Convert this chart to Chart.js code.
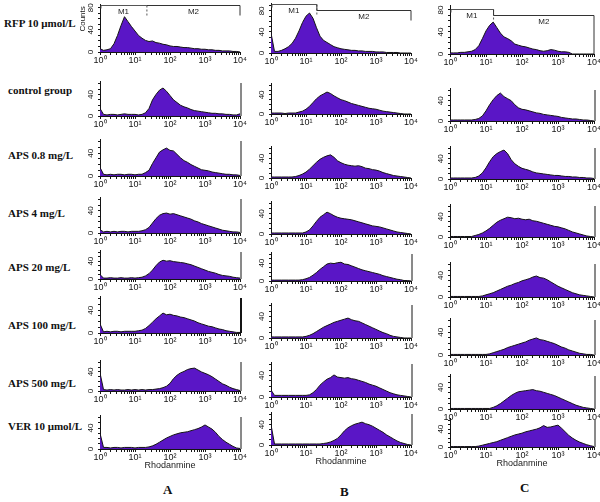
<!DOCTYPE html>
<html>
<head>
<meta charset="utf-8">
<script src="https://cdn.jsdelivr.net/npm/chart.js@4.4.1/dist/chart.umd.min.js"></script>
<style>
  body { margin: 0; background: #fff; }
  #fig { position: relative; width: 600px; height: 502px; overflow: hidden; background: #fff; }
  #fig canvas { position: absolute; }
  .rowlab { position: absolute; left: 8px; font: bold 11px "Liberation Serif", "Times New Roman", serif; color: #111; white-space: nowrap; }
  .collab { position: absolute; font: bold 13px "Liberation Serif", "Times New Roman", serif; color: #111; }
</style>
</head>
<body>
<div id="fig"></div>
<script>
// bin positions (log10 of fluorescence channel)
const binLog = [0.0,0.1,0.2,0.3,0.4,0.5,0.6,0.7,0.8,0.9,1.0,1.1,1.2,1.3,1.4,1.5,1.6,1.7,1.8,1.9,2.0,
                2.1,2.2,2.3,2.4,2.5,2.6,2.7,2.8,2.9,3.0,3.1,3.2,3.3,3.4,3.5,3.6,3.7,3.8,3.9,4.0];

const rowLabels = ['RFP 10 μmol/L', 'control group', 'APS 0.8 mg/L', 'APS 4 mg/L',
                   'APS 20 mg/L', 'APS 100 mg/L', 'APS 500 mg/L', 'VER 10 μmol/L'];
const colLetters = ['A', 'B', 'C'];
const decadeLabels = ['10⁰', '10¹', '10²', '10³', '10⁴'];
const countTicks = [0, 40, 80];

// column A counts
const rfpA     = [6,3,4,6,15,30,48,64,55,46,38,30,25,21,19,20,17,16,14,13,11,10,10,9,8,8,7,6,6,5,5,4,4,3,3,2,2,2,1,1,0];
const controlA = [14,3,2,3,3,2,3,4,3,3,3,2,3,6,14,30,40,48,52,46,38,30,25,20,17,15,12,10,9,8,7,6,5,5,4,4,3,3,2,2,4];
const aps08A   = [15,3,2,3,2,3,3,2,3,3,2,3,3,6,10,22,32,42,46,49,45,44,38,32,27,24,20,17,14,11,10,9,7,6,5,4,3,3,2,2,1];
const aps4A    = [6,2,3,2,3,2,3,3,2,3,3,3,4,6,10,18,26,32,35,36,34,35,33,31,29,27,25,22,20,17,15,13,11,9,7,5,4,3,2,2,1];
const aps20A   = [10,2,2,3,2,2,3,2,2,3,2,3,4,7,12,20,30,38,42,40,41,39,38,37,36,34,32,29,26,23,20,17,15,13,10,8,7,6,4,3,2];
const aps100A  = [16,2,3,2,3,3,2,3,3,3,3,4,5,8,13,19,25,30,35,32,33,31,30,28,27,25,23,21,18,16,14,12,11,9,7,6,4,3,2,1,1];
const aps500A  = [38,3,2,3,2,3,2,2,3,2,3,2,3,2,3,3,4,5,7,10,16,26,33,38,41,45,47,48,44,40,37,34,30,25,20,15,12,8,5,3,1];
const verA     = [30,3,3,2,3,3,2,3,3,3,2,3,3,3,4,6,9,13,17,21,24,27,29,31,32,33,35,37,39,42,46,42,38,32,24,18,13,9,5,2,1];

// column B counts
const rfpB     = [38,3,3,5,8,12,18,28,42,58,70,76,66,48,32,24,20,16,12,10,8,7,6,5,5,4,4,3,3,3,2,2,2,1,1,1,1,0,0,0,0];
const controlB = [2,2,2,2,1,2,2,2,4,6,10,16,24,32,38,42,46,43,38,34,30,28,25,22,20,18,16,14,12,11,10,8,6,5,4,3,2,1,0,0,0];
const aps08B   = [2,2,2,2,2,2,2,3,5,8,12,18,25,32,38,42,45,47,42,35,31,28,26,25,24,25,23,20,19,17,16,14,11,9,7,5,4,3,2,1,0];
const aps4B    = [2,2,2,2,2,2,2,2,2,2,4,8,16,25,33,38,43,40,36,33,31,30,29,28,26,24,22,20,18,16,15,14,12,10,8,6,4,3,2,1,0];
const aps20B   = [2,2,2,2,2,2,2,2,2,3,5,8,13,19,26,32,38,40,39,41,42,38,37,34,31,28,25,23,21,19,17,15,12,10,8,6,4,3,1,1,0];
const aps100B  = [2,2,2,2,2,2,2,2,2,2,3,5,8,12,16,20,23,26,29,31,33,35,37,34,32,31,28,25,22,19,16,13,10,8,5,3,2,1,0,0,0];
const aps500B  = [13,3,3,3,3,3,3,3,3,3,3,4,8,14,22,28,33,36,41,37,36,35,36,34,33,31,29,27,24,22,20,17,14,11,8,6,4,3,2,1,0];
const verB     = [40,2,2,2,2,2,2,2,2,2,2,2,2,2,2,3,4,6,9,13,20,28,34,38,41,43,45,42,40,37,33,29,25,20,16,12,8,5,3,1,0];

// column C counts
const rfpC     = [2,2,2,3,3,4,5,8,15,28,42,52,58,48,38,31,28,24,18,16,14,13,11,9,8,6,5,6,8,7,5,4,4,3,0,0,0,0,0,0,0];
const controlC = [2,2,2,2,2,2,2,3,5,10,20,32,42,50,55,48,44,40,32,26,23,22,20,18,16,15,13,12,11,10,9,7,6,5,4,4,3,2,2,1,0];
const aps08C   = [2,2,2,2,2,2,2,3,6,12,22,34,44,50,54,57,50,38,30,25,21,19,17,14,12,11,10,9,8,7,7,6,5,5,4,4,3,3,2,2,1];
const aps4C    = [1,1,1,1,1,1,1,3,5,8,12,17,23,29,33,36,39,38,36,37,35,34,35,32,31,29,27,25,23,21,20,18,16,13,10,8,6,4,2,1,0];
const aps20C   = [1,1,1,1,1,1,1,1,1,2,4,6,8,11,14,17,20,22,25,27,30,32,34,37,39,36,35,32,28,24,20,17,14,11,8,6,4,3,2,1,0];
const aps100C  = [1,1,1,1,1,1,1,1,1,1,1,2,4,6,8,10,13,15,17,19,21,23,26,28,30,27,26,24,22,20,17,14,12,9,7,5,3,2,1,1,0];
const aps500C  = [1,1,1,1,1,1,1,1,1,1,1,1,3,6,10,15,20,25,29,32,33,34,35,36,34,33,31,29,27,25,22,19,16,13,10,7,5,3,2,1,0];
const verC     = [1,1,1,1,1,1,1,1,2,4,6,8,10,12,15,18,21,24,27,29,31,34,36,38,40,43,48,44,45,47,49,42,34,26,20,15,11,8,5,3,1];

const seriesA = [rfpA, controlA, aps08A, aps4A, aps20A, aps100A, aps500A, verA];
const seriesB = [rfpB, controlB, aps08B, aps4B, aps20B, aps100B, aps500B, verB];
const seriesC = [rfpC, controlC, aps08C, aps4C, aps20C, aps100C, aps500C, verC];

// y-axis top (counts) of the first row; other rows use 65
const firstRowMax = [87, 95, 89];
const otherRowMax = 65;

// page geometry: x pixel of 10^0 and 10^4 per column, [top, baseline] per row
const colX = [[100, 240], [271, 411], [450, 594]];
const rowYA = [[4,52],[81,116],[139,176],[197,233],[250,279],[296,333],[360,391],[415,449]];
const rowYB = [[3,53],[83,114],[146,178],[201,234],[252,281],[303,338],[362,397],[412,445]];
const rowYC = [[5,54],[88,121],[146,179],[204,237],[262,297],[318,355],[374,409],[418,447]];
const rowLabelY = [24, 91, 156, 214, 268, 326, 384, 427];
const colLetterPos = [[168, 490], [345, 492], [525, 488]];

// gate markers in the RFP row: M1/M2 boundary (log), and marker heights (counts)
const gates = [
  { edge: 1.34, m1: 86, m2: 86, drop: 10 },
  { edge: 1.31, m1: 93, m2: 82, drop: 10 },
  { edge: 1.21, m1: 82, m2: 71, drop: 'base' },
];

const fillColor = '#5a16c6';
const inkColor = '#141414';
const sansFont = '"Liberation Sans", Arial, sans-serif';

const xTickValues = [];
for (let d = 0; d < 4; d++) {
  xTickValues.push(d);
  for (let m = 2; m <= 9; m++) xTickValues.push(d + Math.log10(m));
}
xTickValues.push(4);

const fig = document.getElementById('fig');

rowLabels.forEach((t, i) => {
  const el = document.createElement('div');
  el.className = 'rowlab';
  el.textContent = t;
  el.style.top = (rowLabelY[i] - 7) + 'px';
  el.style.left = (i === 0 ? 4 : 8) + 'px';
  fig.appendChild(el);
});
colLetters.forEach((t, i) => {
  const el = document.createElement('div');
  el.className = 'collab';
  el.textContent = t;
  el.style.left = (colLetterPos[i][0] - 5) + 'px';
  el.style.top = (colLetterPos[i][1] - 8) + 'px';
  fig.appendChild(el);
});

const deco = {
  id: 'deco',
  afterDraw(chart, args, opts) {
    const { ctx, chartArea: a, scales: { x, y } } = chart;
    ctx.save();
    ctx.fillStyle = inkColor;
    ctx.strokeStyle = inkColor;
    ctx.textAlign = 'center';
    ctx.textBaseline = 'middle';
    ctx.font = '8px ' + sansFont;
    countTicks.filter(v => v <= y.max).forEach(v => {
      ctx.save();
      ctx.translate(a.left - 9, y.getPixelForValue(v));
      ctx.rotate(-Math.PI / 2);
      ctx.fillText(String(v), 0, 0);
      ctx.restore();
    });
    if (opts.counts) {
      ctx.save();
      ctx.translate(a.left - 17, y.getPixelForValue(60));
      ctx.rotate(-Math.PI / 2);
      ctx.fillText('Counts', 0, 0);
      ctx.restore();
    }
    if (opts.rightLine) {
      ctx.lineWidth = opts.rightLine;
      ctx.beginPath();
      ctx.moveTo(a.right + 1, a.top + 2);
      ctx.lineTo(a.right + 1, a.bottom);
      ctx.stroke();
    }
    if (opts.gate) {
      const g = opts.gate;
      const xe = x.getPixelForValue(g.edge);
      const y1 = Math.round(y.getPixelForValue(g.m1)) + 0.5;
      const y2 = Math.round(y.getPixelForValue(g.m2)) + 0.5;
      ctx.lineWidth = 1;
      ctx.strokeStyle = '#555';
      ctx.beginPath();
      ctx.moveTo(a.left + 1, y1 + 3); ctx.lineTo(a.left + 1, y1); ctx.lineTo(xe, y1);
      ctx.stroke();
      ctx.setLineDash([2, 2]);
      ctx.beginPath();
      ctx.moveTo(xe, y1); ctx.lineTo(xe, y1 + 10);
      ctx.stroke();
      ctx.setLineDash([]);
      ctx.strokeStyle = '#333';
      ctx.beginPath();
      ctx.moveTo(xe, y1); ctx.lineTo(xe, y2); ctx.lineTo(a.right, y2);
      ctx.lineTo(a.right, g.drop === 'base' ? a.bottom : y2 + g.drop);
      ctx.stroke();
      ctx.font = '8px ' + sansFont;
      ctx.fillStyle = '#222';
      ctx.fillText('M1', (a.left + xe) / 2, y1 + 6);
      ctx.fillText('M2', (xe + a.right) / 2, y2 + 6);
    }
    if (opts.title) {
      ctx.font = '9px ' + sansFont;
      ctx.fillStyle = '#222';
      ctx.fillText('Rhodanmine', (a.left + a.right) / 2, a.bottom + 17);
    }
    ctx.restore();
  }
};

const padL = 22, padR = 8, padT = 3;

function makePanel(col, row, counts, rowY) {
  const [x0, x4] = colX[col];
  const [yTop, yBase] = rowY[row];
  const padB = row === 7 ? 24 : 13;
  const W = (x4 - x0) + padL + padR;
  const H = (yBase - yTop) + padT + padB;
  const canvas = document.createElement('canvas');
  canvas.width = W;
  canvas.height = H;
  canvas.style.left = (x0 - padL) + 'px';
  canvas.style.top = (yTop - padT) + 'px';
  canvas.style.width = W + 'px';
  canvas.style.height = H + 'px';
  fig.appendChild(canvas);

  const yMax = row === 0 ? firstRowMax[col] : otherRowMax;
  const rightLine = col === 0 ? (row === 5 ? 2 : 1)
                  : col === 1 ? (row >= 4 ? 1 : 0)
                  : (row >= 1 ? 1 : 0);

  new Chart(canvas, {
    type: 'line',
    data: {
      datasets: [{
        data: binLog.map((v, i) => ({ x: v, y: counts[i] })),
        fill: 'origin',
        backgroundColor: fillColor,
        borderColor: inkColor,
        borderWidth: 1,
        pointRadius: 0,
        tension: 0,
      }]
    },
    options: {
      responsive: false,
      animation: false,
      events: [],
      layout: { padding: { top: padT, right: padR, left: 0, bottom: 0 } },
      plugins: {
        legend: { display: false },
        tooltip: { enabled: false },
        deco: {
          counts: col === 0 && row === 0,
          rightLine: row === 0 ? 0 : rightLine,
          gate: row === 0 ? gates[col] : null,
          title: row === 7,
        }
      },
      scales: {
        x: {
          type: 'linear',
          min: 0,
          max: 4,
          afterBuildTicks: s => { s.ticks = xTickValues.map(v => ({ value: v })); },
          afterFit: s => { s.height = padB; },
          ticks: {
            autoSkip: false,
            maxRotation: 0,
            minRotation: 0,
            padding: 0,
            color: inkColor,
            font: { size: 9, family: sansFont },
            callback: v => Number.isInteger(v) ? decadeLabels[v] : '',
          },
          grid: { drawOnChartArea: false, tickLength: 3, color: inkColor },
          border: { color: inkColor, width: 1 },
        },
        y: {
          min: 0,
          max: yMax,
          afterBuildTicks: s => {
            const t = [];
            for (let v = 0; v <= yMax; v += 10) t.push({ value: v });
            s.ticks = t;
          },
          afterFit: s => { s.width = padL; },
          ticks: { display: false },
          grid: { drawOnChartArea: false, tickLength: 2, color: inkColor },
          border: { color: inkColor, width: 1 },
        }
      }
    },
    plugins: [deco]
  });
}

seriesA.forEach((s, r) => makePanel(0, r, s, rowYA));
seriesB.forEach((s, r) => makePanel(1, r, s, rowYB));
seriesC.forEach((s, r) => makePanel(2, r, s, rowYC));
</script>
</body>
</html>
